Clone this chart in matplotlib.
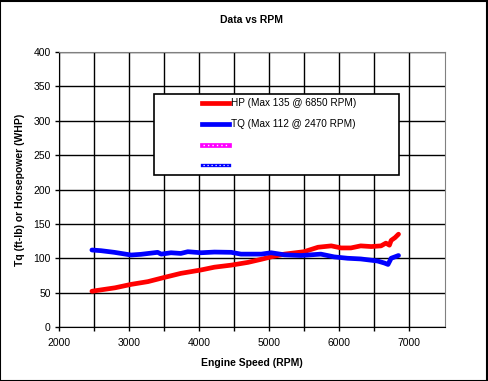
import matplotlib.pyplot as plt
from matplotlib.lines import Line2D
from matplotlib.patches import Rectangle
import numpy as np

plt.rcParams['font.family'] = ['Liberation Sans', 'DejaVu Sans']

# valores
rpm_hp = [2470, 2600, 2800, 3030, 3270, 3500, 3740, 4030, 4220, 4460, 4700, 4890, 5030,
          5220, 5500, 5700, 5890, 6030, 6170, 6310, 6460, 6600, 6670, 6720, 6745, 6800, 6850]
hp = [52, 54, 57, 62, 66, 72, 78, 83, 87, 90, 94, 98.5, 102,
      106, 109.5, 116, 118, 115, 115, 118, 117, 118, 122, 119, 126, 130, 135]

rpm_tq = [2470, 2600, 2790, 3030, 3170, 3410, 3460, 3600, 3740, 3840, 4030, 4220, 4460, 4600,
          4890, 5030, 5220, 5460, 5740, 5930, 6120, 6310, 6550, 6650, 6700, 6745, 6850]
tq = [112, 111, 108.6, 104.7, 105.7, 108.6, 106, 108, 107, 109.5, 108, 109, 108.6, 106,
      106, 108, 105, 104, 106, 102, 100, 99, 96, 93, 91, 100, 104]

legend_labels = ['HP (Max 135 @ 6850 RPM)', 'TQ (Max 112 @ 2470 RPM)', '', '']

W, H = 488, 381
fig = plt.figure(figsize=(W / 100, H / 100), dpi=100)
fig.patch.set_facecolor('white')
ax = fig.add_axes([59 / W, (H - 327) / H, (445 - 59) / W, (327 - 52) / H])

ax.plot(rpm_hp, hp, color='#ff0000', lw=3.4, solid_capstyle='round', zorder=3)
ax.plot(rpm_tq, tq, color='#0000ff', lw=3.4, solid_capstyle='round', zorder=3)

ax.set_xlim(2000, 7514)
ax.set_ylim(0, 400)
ax.set_xticks(np.arange(2000, 7001, 500))
ax.set_xticklabels([str(v) if v % 1000 == 0 else '' for v in range(2000, 7001, 500)])
ax.set_yticks(np.arange(0, 401, 50))
ax.grid(True, color='black', lw=1)
ax.set_axisbelow(True)
ax.tick_params(direction='out', length=3, width=1, labelsize=7.5, color='black')
ax.tick_params(axis='x', pad=5)
ax.tick_params(axis='y', pad=3)

for s in ['top', 'right']:
    ax.spines[s].set_color('#808080')
for s in ['left', 'bottom']:
    ax.spines[s].set_color('black')

ax.set_title('Data vs RPM', fontsize=7.5, fontweight='bold', pad=21)
ax.set_xlabel('Engine Speed (RPM)', fontsize=7.5, fontweight='bold', labelpad=7)
ax.set_ylabel('Tq (ft-lb) or Horsepower (WHP)', fontsize=7.5, fontweight='bold', labelpad=6)

# legenda feita a mao (caixa do excel)
def fx(px):
    return px / W

def fy(py):
    return (H - py) / H

fig.add_artist(Rectangle((fx(154), fy(175)), fx(399) - fx(154), fy(94) - fy(175),
                         transform=fig.transFigure, facecolor='white', edgecolor='black', lw=1.2, zorder=5))
estilos = [dict(color='#ff0000', lw=3.4, ls='-'),
           dict(color='#0000ff', lw=3.4, ls='-'),
           dict(color='#ff00ff', lw=3.4, ls='-'),
           dict(color='#0000ff', lw=2.4, ls='-')]
ys = [103, 124, 145, 165]
for i, (y, lab, st) in enumerate(zip(ys, legend_labels, estilos)):
    fig.add_artist(Line2D([fx(202), fx(229)], [fy(y), fy(y)], transform=fig.transFigure, zorder=6, **st))
    if i >= 2:
        # pontilhado branco por cima
        fig.add_artist(Line2D([fx(203), fx(228)], [fy(y), fy(y)], transform=fig.transFigure, zorder=6.5,
                              color='white', lw=1 if i == 2 else 0.9, ls=(0, (1, 2.2))))
    fig.text(fx(231), fy(y), lab, fontsize=7.2, va='center', ha='left', zorder=7)

fig.add_artist(Rectangle((0.001, 0.001), 0.997, 0.997, transform=fig.transFigure,
                         fill=False, edgecolor='black', lw=1.5))

fig.savefig('out.png', dpi=100)
